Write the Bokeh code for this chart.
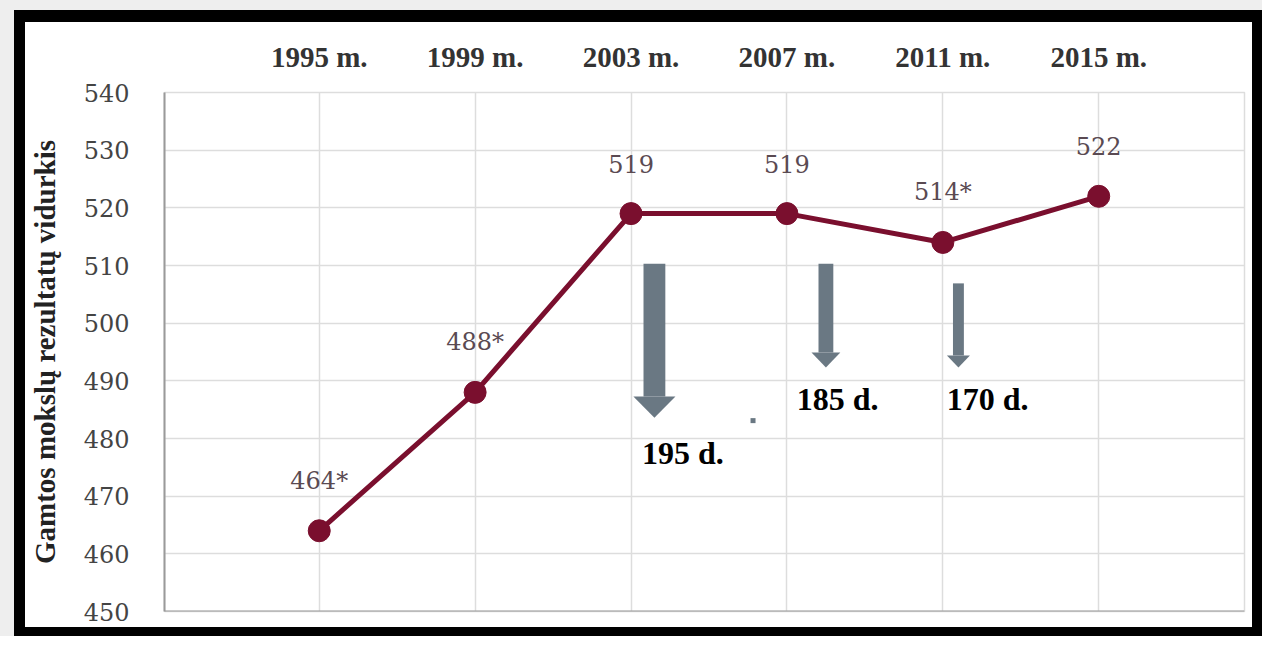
from bokeh.plotting import figure
from bokeh.models import ColumnDataSource, FixedTicker, LinearAxis, Range1d, Span, Div
from bokeh.layouts import row, column
from bokeh.core.properties import value
from bokeh.embed import file_html
from bokeh.resources import INLINE

# ---- data ----
years = [1995, 1999, 2003, 2007, 2011, 2015]
year_labels = ["1995 m.", "1999 m.", "2003 m.", "2007 m.", "2011 m.", "2015 m."]
scores = [464, 488, 519, 519, 514, 522]
score_labels = ["464*", "488*", "519", "519", "514*", "522"]
y_ticks = [450, 460, 470, 480, 490, 500, 510, 520, 530, 540]

# annotation arrows (days of learning)
arrow_x = [2003.6, 2008.0, 2011.4]
arrow_top = [510.3, 510.3, 506.9]
arrow_head_base = [487.3, 494.9, 494.4]
arrow_tip = [483.6, 492.3, 492.3]
shaft_w = [0.56, 0.38, 0.28]
head_w = [1.08, 0.74, 0.59]
day_labels = ["195 d.", "185 d.", "170 d."]
day_label_x = [2004.33, 2008.3, 2012.15]
day_label_y = [477.4, 486.8, 486.8]

SERIF_BOLD = "Liberation Serif"
SERIF_REG = "DejaVu Serif"
LINE_COLOR = "#7a0f2e"
ARROW_COLOR = "#6a7883"
GRAY_OUT = "#eeeeee"

p = figure(width=1227, height=605, output_backend="svg", toolbar_location=None,
           x_range=Range1d(1991.03, 2018.74), y_range=Range1d(450, 540),
           x_axis_location=None, y_axis_location="left",
           min_border_left=138, min_border_right=8, min_border_top=70,
           min_border_bottom=16)
p.background_fill_color = "white"
p.border_fill_color = "white"
p.outline_line_color = "#dddddd"
p.outline_line_width = 1.5

# y axis
yax = p.yaxis[0]
yax.ticker = FixedTicker(ticks=y_ticks)
yax.axis_label = "Gamtos mokslų rezultatų vidurkis"
yax.axis_label_text_font = SERIF_BOLD
yax.axis_label_text_font_style = "bold"
yax.axis_label_text_font_size = "29px"
yax.axis_label_text_color = "#222222"
yax.axis_label_standoff = 20
yax.major_label_text_font = SERIF_REG
yax.major_label_text_font_size = "24px"
yax.major_label_text_color = "#444444"
yax.major_label_standoff = 35
yax.major_tick_out = 0
yax.major_tick_in = 0
yax.major_tick_line_color = None
yax.minor_tick_line_color = None
yax.axis_line_color = "#9a9a9a"
yax.axis_line_width = 2

# top axis with years
top = LinearAxis(ticker=FixedTicker(ticks=years),
                 major_label_overrides={y: l for y, l in zip(years, year_labels)})
top.major_label_text_font = SERIF_BOLD
top.major_label_text_font_style = "bold"
top.major_label_text_font_size = "29px"
top.major_label_text_color = "#333333"
top.major_label_standoff = 20
top.major_tick_out = 0
top.major_tick_in = 0
top.major_tick_line_color = None
top.minor_tick_line_color = None
top.axis_line_color = None
p.add_layout(top, "above")

# grids
p.ygrid.ticker = FixedTicker(ticks=y_ticks)
p.ygrid.grid_line_color = "#dddddd"
p.ygrid.grid_line_width = 1.5
p.xgrid.ticker = FixedTicker(ticks=years)
p.xgrid.grid_line_color = "#dddddd"
p.xgrid.grid_line_width = 1.5

# bottom axis line
p.add_layout(Span(location=450, dimension="width", line_color="#9a9a9a", line_width=2))

# line and markers
src = ColumnDataSource(dict(x=years, y=scores, lab=score_labels))
p.line("x", "y", source=src, line_color=LINE_COLOR, line_width=5)
p.scatter("x", "y", source=src, size=22, fill_color=LINE_COLOR, line_color=LINE_COLOR)
p.text("x", "y", text="lab", source=src, y_offset=-50, text_align="center",
       text_baseline="middle", text_font=value(SERIF_REG), text_font_size="24px",
       text_color="#5a4a52")

# arrows
shaft = ColumnDataSource(dict(
    left=[x - w / 2 for x, w in zip(arrow_x, shaft_w)],
    right=[x + w / 2 for x, w in zip(arrow_x, shaft_w)],
    top=arrow_top, bottom=arrow_head_base))
p.quad(left="left", right="right", top="top", bottom="bottom", source=shaft,
       fill_color=ARROW_COLOR, line_color=None)
heads = ColumnDataSource(dict(
    xs=[[x - w / 2, x + w / 2, x] for x, w in zip(arrow_x, head_w)],
    ys=[[b, b, t] for b, t in zip(arrow_head_base, arrow_tip)]))
p.patches("xs", "ys", source=heads, fill_color=ARROW_COLOR, line_color=None)

p.scatter([2006.13], [483.1], marker="square", size=5, fill_color=ARROW_COLOR,
          line_color=None)

p.text(day_label_x, day_label_y, text=day_labels, text_align="center",
       text_baseline="middle", text_font=value(SERIF_BOLD), text_font_size="32px",
       text_font_style="bold", text_color="black")

# black picture frame made of plain divs
GRAY_LEFT = f"linear-gradient(to right, {GRAY_OUT} 14px, transparent 14px)"


def bar(w, h, bg):
    return Div(text="", width=w, height=h, styles={"background": bg, "margin": "0"})


top_bar = bar(1262, 22, f"{GRAY_LEFT}, linear-gradient(to bottom, {GRAY_OUT} 10px, black 10px)")
left_bar = bar(25, 605, f"linear-gradient(to right, {GRAY_OUT} 14px, black 14px)")
right_bar = bar(10, 605, "black")
bottom_bar = bar(1262, 9, f"{GRAY_LEFT}, black")

layout = column(top_bar, row(left_bar, p, right_bar), bottom_bar)

open("out.html", "w").write(file_html(layout, INLINE))
